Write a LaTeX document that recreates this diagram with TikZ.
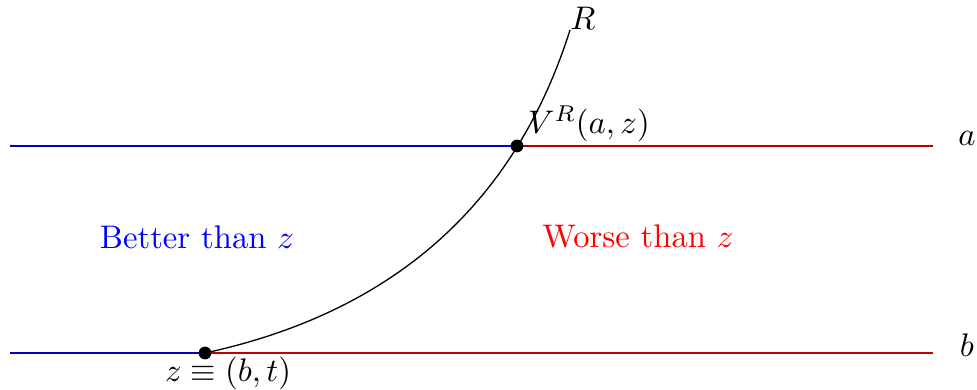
\documentclass[tikz,border=0pt]{standalone}
\begin{document}
\begin{tikzpicture}[x=0.01075cm,y=-0.01075cm,
  dot/.style={circle,fill=black,inner sep=0pt,minimum size=3.9pt},
  bline/.style={blue!75!black},
  rline/.style={red!75!black},
  lbl/.style={inner sep=0pt}]
\useasboundingbox (0,0) rectangle (977,389);
\coordinate (aL) at (10,146);
\coordinate (aR) at (933,146);
\coordinate (bL) at (10,353);
\coordinate (bR) at (933,353);
\coordinate (Rend) at (570,30);
\coordinate (V) at (517,146);
\coordinate (z) at (205,353);
\coordinate (c1) at (393,312.3);
\coordinate (c2) at (514.7,204.7);
\draw[bline] (aL) -- (V);
\draw[rline] (V) -- (aR);
\draw[bline] (bL) -- (z);
\draw[rline] (z) -- (bR);
\draw (z) .. controls (c1) and (c2) .. (Rend);
\node[dot] (Vdot) at (V) {};
\node[dot] (zdot) at (z) {};
\node[lbl] (Rl) at (583,18) {$R$};
\node[lbl] (Vl) at (589,124) {$V^R(a,z)$};
\node[lbl] (zl) at (228,373) {$z\equiv(b,t)$};
\node[lbl] (al) at (967,138) {$a$};
\node[lbl] (bl) at (967,345) {$b$};
\node[lbl,text=blue] (better) at (197,237) {Better than $z$};
\node[lbl,text=red] (worse) at (638,237) {Worse than $z$};
\end{tikzpicture}
\end{document}
